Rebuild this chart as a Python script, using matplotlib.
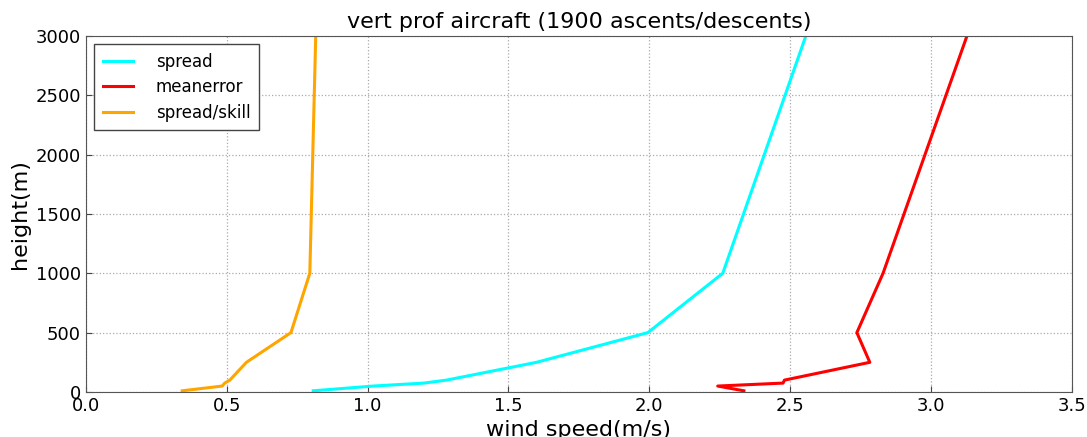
import matplotlib
matplotlib.use('Agg')
import matplotlib.pyplot as plt
import numpy as np

# heights of the levels (m)
heights = [10, 50, 75, 100, 250, 500, 1000, 3000]

spread = [0.807, 1.02, 1.20, 1.28, 1.60, 1.995, 2.261, 2.556]
meanerror = [2.336, 2.243, 2.475, 2.48, 2.783, 2.737, 2.83, 3.128]
spread_skill = [0.342, 0.484, 0.493, 0.511, 0.570, 0.728, 0.795, 0.816]

fig = plt.figure(figsize=(10.87, 4.37), dpi=100)
ax = fig.add_axes([0.079, 0.103, 0.907, 0.815])

ax.plot(spread, heights, color='cyan', lw=2.2, label='spread')
ax.plot(meanerror, heights, color='red', lw=2.2, label='meanerror')
ax.plot(spread_skill, heights, color='orange', lw=2.2, label='spread/skill')

ax.set_xlim(0, 3.5)
ax.set_ylim(0, 3000)
ax.set_xticks(np.arange(0, 3.51, 0.5))
ax.set_yticks(np.arange(0, 3001, 500))
ax.grid(True, color='#aaaaaa', linestyle=':', linewidth=0.9)
ax.tick_params(direction='in', labelsize=13, length=4, color='#444444')
for s in ax.spines.values():
    s.set_color('#555555')

ax.set_title('vert prof aircraft (1900 ascents/descents)', fontsize=16)
ax.set_xlabel('wind speed(m/s)', fontsize=16)
ax.set_ylabel('height(m)', fontsize=16)

leg = ax.legend(loc='upper left', fontsize=12, fancybox=False, framealpha=1,
                edgecolor='#444444', borderpad=0.5, handlelength=1.8,
                labelspacing=0.45, handletextpad=1.4)
leg.get_frame().set_linewidth(1.0)

plt.savefig('out.png', dpi=100)
